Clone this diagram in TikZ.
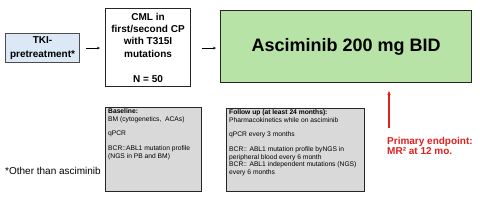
\documentclass[tikz,border=0pt]{standalone}
\usepackage{fontspec}
\setmainfont{Liberation Sans}
\usetikzlibrary{arrows.meta}
\definecolor{tkiblue}{HTML}{DCE8F6}
\definecolor{ascgreen}{HTML}{B7E3A7}
\definecolor{infogray}{HTML}{D9D9D9}
\definecolor{endred}{HTML}{E0201E}
\begin{document}
\begin{tikzpicture}[x=1pt,y=-1pt,
  boxbase/.style={draw=black!85,line width=1.1pt,inner sep=0pt,anchor=north west},
  infotext/.style={anchor=north west,align=left,inner sep=0pt,font=\fontsize{6.7}{7.45}\selectfont},
  flowarrow/.style={-{Stealth[length=3pt,width=2.6pt]},line width=0.8pt,black}]
\useasboundingbox (0,0) rectangle (480,202);
% TKI box
\node[boxbase,draw=black!70,fill=tkiblue,minimum width=74pt,minimum height=29pt,
  align=center,font=\bfseries\fontsize{10}{13.5}\selectfont] (tki) at (5,33) {TKI-\\pretreatment*};
% CML box
\node[boxbase,fill=white,minimum width=85pt,minimum height=78pt,
  align=center,font=\bfseries\fontsize{10}{12.4}\selectfont] (cml) at (105,8)
  {CML in\\first/second CP\\with T315I\\mutations\\[12.4pt]N = 50};
% Green box
\node[boxbase,fill=ascgreen,minimum width=251pt,minimum height=72pt,
  font=\bfseries\fontsize{18}{20}\selectfont] (asc) at (220,10) {Asciminib 200 mg BID};
% Arrows
\draw[flowarrow,shorten <=6pt,shorten >=5pt] (tki.east) -- (tki.east -| cml.west);
\draw[flowarrow,shorten <=11pt,shorten >=4pt] (cml.east |- tki.east) -- (cml.east |- tki.east -| asc.west);
% Baseline box
\node[boxbase,fill=infogray,minimum width=96pt,minimum height=84pt] (base) at (105,107) {};
\node[infotext] (basetxt) at ([xshift=3pt,yshift=-1.5pt]base.north west)
  {\textbf{Baseline:}\\BM (cytogenetics, \ ACAs)\\[7.45pt]qPCR\\[7.45pt]BCR::ABL1 mutation profile\\(NGS in PB and BM)};
% Follow up box
\node[boxbase,fill=infogray,minimum width=138pt,minimum height=83pt] (fup) at (226,108) {};
\node[infotext] (fuptxt) at ([xshift=3pt,yshift=-1.5pt]fup.north west)
  {\textbf{Follow up (at least 24 months):}\\Pharmacokinetics while on asciminib\\[7.45pt]qPCR every 3 months\\[7.45pt]BCR:: ABL1 mutation profile byNGS in\\peripheral blood every 6 month\\BCR:: ABL1 independent mutations (NGS)\\every 6 months};
% Footnote
\node[anchor=west,inner sep=0pt,font=\fontsize{10}{12}\selectfont] (note) at (5,171) {*Other than asciminib};
% Primary endpoint
\coordinate (ep) at (389,128);
\draw[endred,line width=1.2pt,-{Stealth[length=4pt,width=3.5pt]},shorten >=8pt] (ep) -- (ep |- asc.south);
\node[anchor=north west,inner sep=0pt,align=left,text=endred,
  font=\bfseries\fontsize{10}{10.5}\selectfont] (eptxt) at (387,137) {Primary endpoint:\\MR² at 12 mo.};
\end{tikzpicture}
\end{document}
